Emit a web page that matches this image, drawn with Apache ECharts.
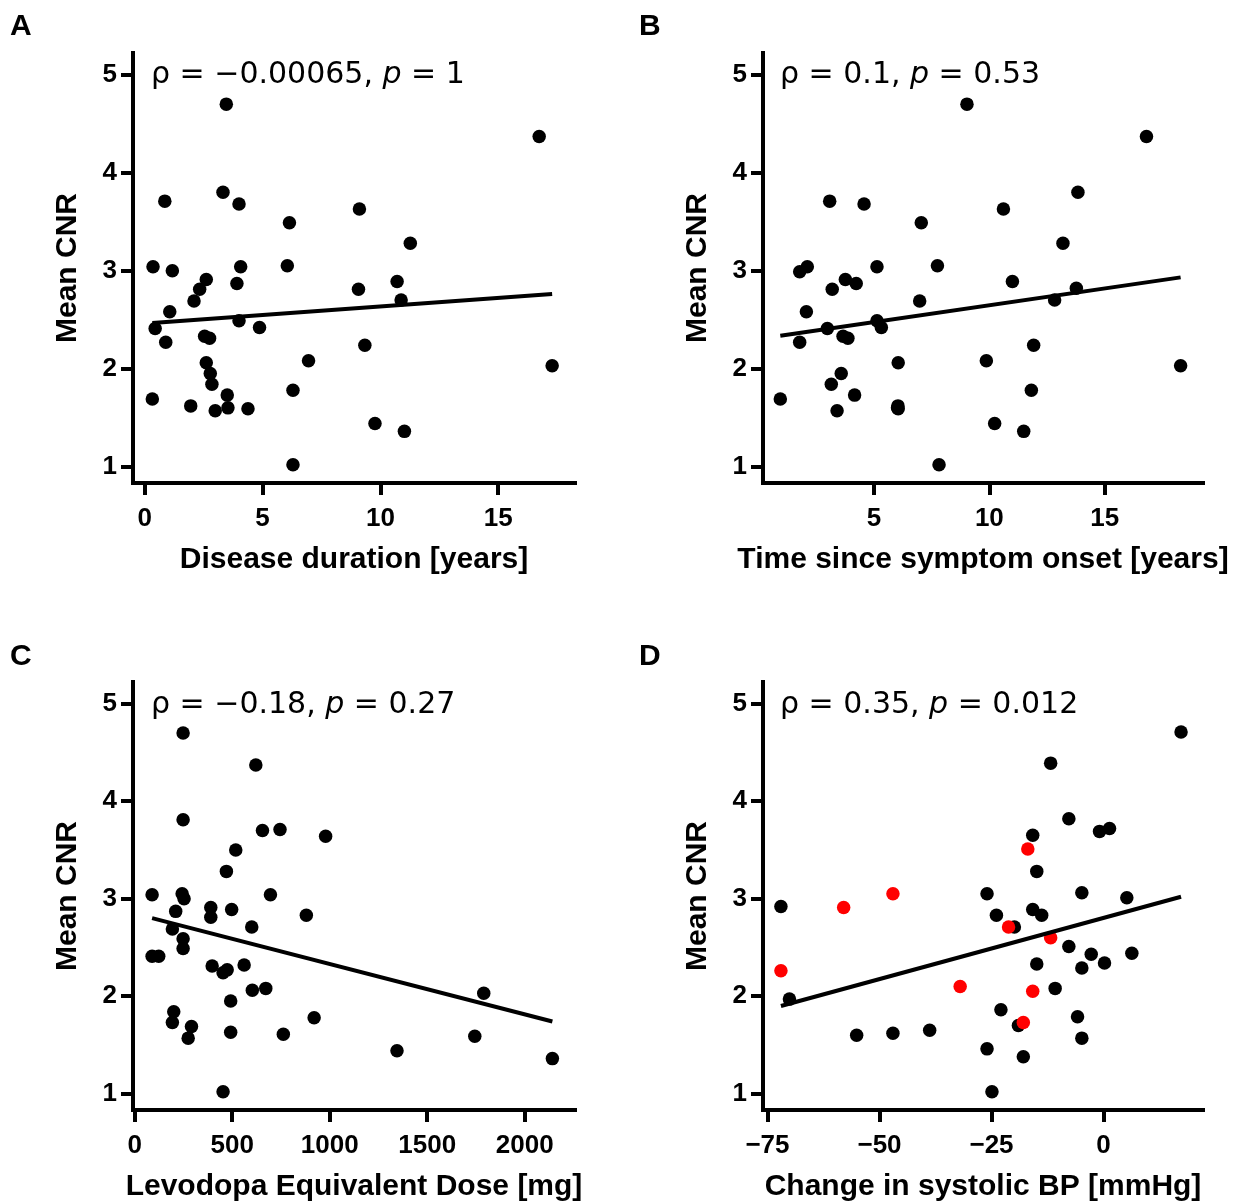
<!DOCTYPE html>
<html><head><meta charset="utf-8">
<script src="https://cdn.jsdelivr.net/npm/echarts@6/dist/echarts.min.js"></script>
<style>html,body{margin:0;padding:0;background:#fff}#c{width:1233px;height:1203px}</style>
</head><body><div id="c"></div>
<script>
// ---- tick labels ----
const yTicks = [1, 2, 3, 4, 5];
const xTicksA = [0, 5, 10, 15];
const xTicksB = [5, 10, 15];
const xTicksC = [0, 500, 1000, 1500, 2000];
const xTicksD = [-75, -50, -25, 0];

// ---- axis titles ----
const yTitle = 'Mean CNR';
const xTitleA = 'Disease duration [years]';
const xTitleB = 'Time since symptom onset [years]';
const xTitleC = 'Levodopa Equivalent Dose [mg]';
const xTitleD = 'Change in systolic BP [mmHg]';

// ---- annotations ----
const statsA = { rho: '\u22120.00065', p: '1' };
const statsB = { rho: '0.1', p: '0.53' };
const statsC = { rho: '\u22120.18', p: '0.27' };
const statsD = { rho: '0.35', p: '0.012' };

// ---- data: [x, Mean CNR] ----
const pointsA = [[3.46,4.70],[16.74,4.37],[3.32,3.80],[0.85,3.71],[4.00,3.68],[9.11,3.63],[6.14,3.49],[11.27,3.28],[0.35,3.04],[1.17,3.00],[4.07,3.04],[6.05,3.05],[2.61,2.91],[3.91,2.87],[2.33,2.81],[10.71,2.89],[9.07,2.81],[2.09,2.69],[10.88,2.70],[1.06,2.58],[0.44,2.41],[4.00,2.49],[4.87,2.42],[0.89,2.27],[2.54,2.33],[2.75,2.31],[9.34,2.24],[6.95,2.08],[2.61,2.06],[2.78,1.95],[2.85,1.84],[17.29,2.03],[6.29,1.78],[0.32,1.69],[3.50,1.73],[1.95,1.62],[2.99,1.57],[3.53,1.60],[4.38,1.59],[9.77,1.44],[11.02,1.36],[6.29,1.02]];
const pointsB = [[9.03,4.70],[16.81,4.37],[13.84,3.80],[3.08,3.71],[4.57,3.68],[10.61,3.63],[7.05,3.49],[13.19,3.28],[1.78,2.99],[2.11,3.04],[5.13,3.04],[7.75,3.05],[3.76,2.91],[4.23,2.87],[3.19,2.81],[11.00,2.89],[13.77,2.82],[6.98,2.69],[12.83,2.70],[2.07,2.58],[2.98,2.41],[5.13,2.49],[5.32,2.42],[1.78,2.27],[3.66,2.33],[3.87,2.31],[11.92,2.24],[9.87,2.08],[6.05,2.06],[3.58,1.95],[3.15,1.84],[18.29,2.03],[11.82,1.78],[0.94,1.69],[4.16,1.73],[3.40,1.57],[6.04,1.62],[6.05,1.59],[6.02,1.60],[10.23,1.44],[11.49,1.36],[7.82,1.02]];
const pointsC = [[248,4.70],[621,4.37],[248,3.81],[655,3.70],[745,3.71],[979,3.64],[518,3.50],[470,3.28],[89,3.04],[243,3.05],[253,3.00],[696,3.04],[390,2.91],[497,2.89],[390,2.81],[210,2.87],[880,2.83],[193,2.69],[600,2.71],[248,2.59],[248,2.49],[89,2.41],[123,2.41],[397,2.31],[453,2.24],[474,2.27],[561,2.32],[603,2.06],[672,2.08],[1790,2.03],[492,1.95],[200,1.84],[193,1.73],[291,1.69],[274,1.57],[492,1.63],[762,1.61],[920,1.78],[1744,1.59],[1345,1.44],[2142,1.36],[453,1.02]];
const pointsDBlack = [[17.3,4.71],[-11.8,4.39],[-7.74,3.82],[-0.89,3.69],[1.34,3.72],[-15.8,3.65],[-14.9,3.28],[-72.0,2.92],[-26.0,3.05],[-4.84,3.06],[5.2,3.01],[-23.9,2.83],[-15.8,2.89],[-13.8,2.83],[-19.9,2.71],[-7.74,2.51],[-2.75,2.43],[6.32,2.44],[-14.9,2.33],[-4.84,2.29],[0.22,2.34],[-70.1,1.97],[-10.8,2.08],[-22.9,1.86],[-19.0,1.70],[-5.8,1.79],[-4.84,1.57],[-55.1,1.60],[-47.0,1.62],[-38.8,1.65],[-26.0,1.46],[-17.9,1.38],[-24.9,1.02]];
const pointsDRed = [[-16.9,3.51],[-47.0,3.05],[-58.0,2.91],[-72.0,2.26],[-32.0,2.10],[-21.2,2.71],[-11.8,2.60],[-15.8,2.05],[-17.9,1.73]];

// ---- fitted lines (endpoints) ----
const fitA = [[0.32,2.466],[17.29,2.762]];
const fitB = [[0.94,2.336],[18.29,2.932]];
const fitC = [[89,2.80],[2142,1.74]];
const fitD = [[-72.0,1.90],[17.3,3.02]];

// ---------------- chart ----------------
const FONT = 'Liberation Sans';
const grids = [
  { left: 133, top: 53, width: 442, height: 430 },
  { left: 763, top: 53, width: 440, height: 430 },
  { left: 133, top: 682, width: 442, height: 430 },
  { left: 763, top: 682, width: 440, height: 430 }
];
const xRanges = [[-0.5, 18.26], [0.19, 19.26], [-9, 2258], [-76, 22.2]];
const xTicks = [xTicksA, xTicksB, xTicksC, xTicksD];
const xTitles = [xTitleA, xTitleB, xTitleC, xTitleD];
const fmt = v => String(v).replace('-', '\u2212');

const axisCommon = {
  axisLine: { onZero: false, lineStyle: { color: '#000', width: 4, cap: 'square' } },
  splitLine: { show: false },
};

const xAxes = grids.map((g, i) => Object.assign({}, axisCommon, {
  type: 'value', gridIndex: i, min: xRanges[i][0], max: xRanges[i][1],
  name: xTitles[i], nameLocation: 'middle', nameGap: 62,
  nameTextStyle: { fontFamily: FONT, fontWeight: 'bold', fontSize: 30, color: '#000' },
  axisTick: { show: true, length: 12, lineStyle: { color: '#000', width: 4 }, customValues: xTicks[i] },
  axisLabel: { fontFamily: FONT, fontWeight: 'bold', fontSize: 26, color: '#000', margin: 23, customValues: xTicks[i], formatter: fmt }
}));
const yAxes = grids.map((g, i) => Object.assign({}, axisCommon, {
  type: 'value', gridIndex: i, min: 0.833, max: 5.222,
  name: yTitle, nameLocation: 'middle', nameGap: 50,
  nameTextStyle: { fontFamily: FONT, fontWeight: 'bold', fontSize: 30, color: '#000' },
  axisTick: { show: true, length: 12, lineStyle: { color: '#000', width: 4 }, customValues: yTicks },
  axisLabel: { fontFamily: FONT, fontWeight: 'bold', fontSize: 26, color: '#000', margin: 16, customValues: yTicks, formatter: fmt }
}));

function scatter(i, data, color) {
  return { type: 'scatter', xAxisIndex: i, yAxisIndex: i, data: data, symbolSize: 13.5,
    itemStyle: { color: color, opacity: 1 }, z: 2, silent: true };
}
function fit(i, data) {
  return { type: 'line', xAxisIndex: i, yAxisIndex: i, data: data, showSymbol: false, symbol: 'none',
    lineStyle: { color: '#000', width: 4 }, z: 3, silent: true };
}

function annot(x, y, s) {
  return { type: 'text', left: x, top: y, style: {
    text: '{n|\u03c1 = ' + s.rho + ', }{i|p}{n| = ' + s.p + '}',
    rich: {
      n: { fontFamily: 'DejaVu Sans', fontSize: 30, fill: '#000' },
      i: { fontFamily: 'DejaVu Sans', fontStyle: 'italic', fontSize: 30, fill: '#000' }
    }
  } };
}
function letter(x, y, t) {
  return { type: 'text', left: x, top: y, style: { text: t, fontFamily: FONT, fontWeight: 'bold', fontSize: 30, fill: '#000' } };
}

const chart = echarts.init(document.getElementById('c'), null, { renderer: 'canvas' });
chart.setOption({
  animation: false,
  backgroundColor: '#fff',
  grid: grids,
  xAxis: xAxes,
  yAxis: yAxes,
  series: [
    scatter(0, pointsA, '#000'), fit(0, fitA),
    scatter(1, pointsB, '#000'), fit(1, fitB),
    scatter(2, pointsC, '#000'), fit(2, fitC),
    scatter(3, pointsDBlack, '#000'), scatter(3, pointsDRed, '#ff0000'), fit(3, fitD)
  ],
  graphic: [
    letter(10, 12, 'A'), letter(639, 12, 'B'), letter(10, 642, 'C'), letter(639, 642, 'D'),
    annot(151, 60, statsA), annot(780, 60, statsB), annot(151, 690, statsC), annot(780, 690, statsD)
  ]
});
</script>
</body></html>
